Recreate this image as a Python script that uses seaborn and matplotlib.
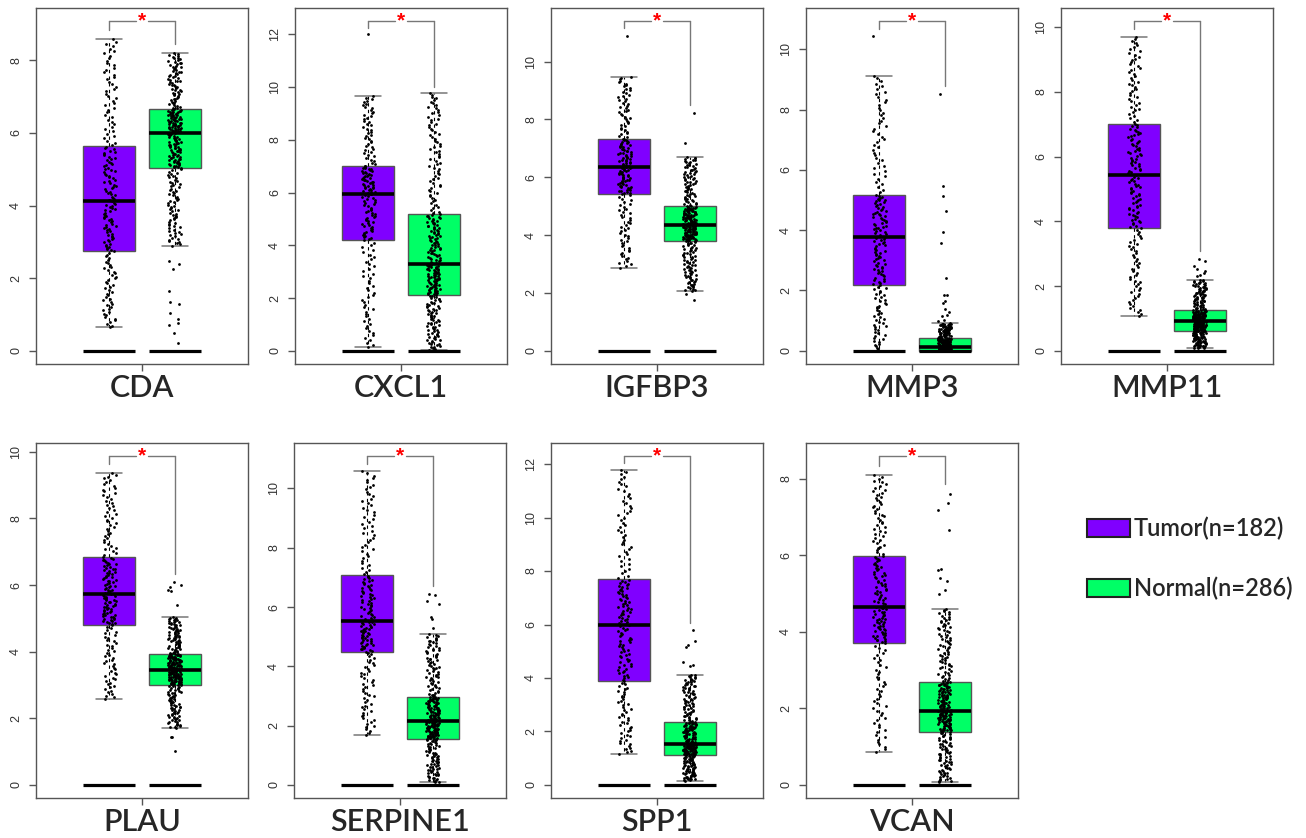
import numpy as np
import pandas as pd
import matplotlib
matplotlib.use("Agg")
import matplotlib.pyplot as plt
import seaborn as sns
from matplotlib.patches import Patch
from matplotlib.ticker import MultipleLocator

sns.set_theme(style="white")
plt.rcParams['font.family'] = ['Liberation Sans', 'DejaVu Sans']

# ---------------- data ----------------
genes = ["CDA", "CXCL1", "IGFBP3", "MMP3", "MMP11",
         "PLAU", "SERPINE1", "SPP1", "VCAN"]
groups = ["Tumor", "Normal"]
n_tumor = 182
n_normal = 286

# box statistics: [lower whisker, Q1, median, Q3, upper whisker]
tumor_stats = {
    "CDA":      [0.65, 2.75, 4.13, 5.64, 8.58],
    "CXCL1":    [0.13, 4.19, 5.94, 7.02, 9.66],
    "IGFBP3":   [2.88, 5.43, 6.35, 7.34, 9.48],
    "MMP3":     [0.00, 2.18, 3.78, 5.17, 9.12],
    "MMP11":    [1.09, 3.81, 5.44, 7.00, 9.69],
    "PLAU":     [2.58, 4.81, 5.73, 6.83, 9.37],
    "SERPINE1": [1.69, 4.48, 5.54, 7.08, 10.59],
    "SPP1":     [1.15, 3.90, 6.00, 7.71, 11.80],
    "VCAN":     [0.87, 3.72, 4.64, 5.98, 8.09],
}
normal_stats = {
    "CDA":      [2.90, 5.04, 6.01, 6.65, 8.19],
    "CXCL1":    [0.04, 2.13, 3.28, 5.20, 9.77],
    "IGFBP3":   [2.07, 3.80, 4.35, 4.99, 6.71],
    "MMP3":     [0.00, 0.00, 0.14, 0.41, 0.91],
    "MMP11":    [0.08, 0.61, 0.91, 1.25, 2.19],
    "PLAU":     [1.71, 3.01, 3.46, 3.94, 5.04],
    "SERPINE1": [0.09, 1.54, 2.17, 2.97, 5.08],
    "SPP1":     [0.16, 1.13, 1.54, 2.35, 4.12],
    "VCAN":     [0.07, 1.38, 1.94, 2.69, 4.59],
}
# points outside the whiskers
tumor_outliers = {
    "CDA": [], "CXCL1": [12.0], "IGFBP3": [10.9], "MMP3": [10.43],
    "MMP11": [], "PLAU": [], "SERPINE1": [], "SPP1": [], "VCAN": [],
}
normal_outliers = {
    "CDA": [2.47, 2.40, 2.24, 1.64, 1.35, 1.29, 1.03, 0.89, 0.76, 0.71, 0.50, 0.21],
    "CXCL1": [],
    "IGFBP3": [8.24, 7.20, 1.95, 1.77],
    "MMP3": [8.52, 5.47, 5.14, 4.64, 3.94, 3.58, 2.41, 1.84, 1.84, 1.64, 1.59,
             1.37, 1.29, 1.20, 1.14, 1.03, 0.98],
    "MMP11": [2.84, 2.77, 2.61, 2.53, 2.46, 2.40, 2.35, 2.30],
    "PLAU": [6.08, 6.00, 5.94, 5.86, 5.81, 5.41, 1.44, 1.44, 1.02],
    "SERPINE1": [6.45, 6.42, 6.20, 6.10, 5.65, 5.60, 5.30],
    "SPP1": [5.80, 5.40, 5.25, 5.15, 4.58, 4.49, 4.43],
    "VCAN": [7.61, 7.36, 7.17, 6.65, 5.65, 5.62, 5.40, 5.33, 5.10, 4.99],
}
legend_labels = ["Tumor(n=182)", "Normal(n=286)"]

palette = {"Tumor": "#8000FF", "Normal": "#00FF66"}

# ---------------- layout ----------------
W, H = 1306, 838
fig = plt.figure(figsize=(W / 100, H / 100), dpi=100)

top_row = (8, 364)
bot_row = (443, 798)
lefts_top = [36, 295, 551, 806, 1061]
lefts_bot = [36, 294, 551, 806]
panel_w = 212

rects = []
for l in lefts_top:
    rects.append((l, top_row))
for l in lefts_bot:
    rects.append((l, bot_row))


def core_values(stats, n):
    p = np.linspace(0, 1, n)
    return np.interp(p, [0, 0.25, 0.5, 0.75, 1.0], stats)


label_font = ["Lato", "DejaVu Sans"]

np.random.seed(3)
for gene, (l, (yt, yb)) in zip(genes, rects):
    ax = fig.add_axes([l / W, 1 - yb / H, panel_w / W, (yb - yt) / H])
    t_out = tumor_outliers[gene]
    n_out = normal_outliers[gene]
    t_core = core_values(tumor_stats[gene], n_tumor - len(t_out))
    n_core = core_values(normal_stats[gene], n_normal - len(n_out))

    core_df = pd.DataFrame({
        "group": ["Tumor"] * len(t_core) + ["Normal"] * len(n_core),
        "value": np.concatenate([t_core, n_core]),
    })
    all_df = pd.DataFrame({
        "group": ["Tumor"] * (len(t_core) + len(t_out)) +
                 ["Normal"] * (len(n_core) + len(n_out)),
        "value": np.concatenate([t_core, t_out, n_core, n_out]),
    })

    sns.boxplot(data=core_df, x="group", y="value", order=groups,
                hue="group", hue_order=groups, palette=palette,
                saturation=1, width=0.8, whis=(0, 100), showfliers=False,
                linewidth=1, linecolor="#555555", legend=False,
                medianprops=dict(color="black", linewidth=2.6),
                whiskerprops=dict(color="black", linewidth=0.8,
                                  linestyle=(0, (3, 3))),
                capprops=dict(color="#777777", linewidth=1.1),
                ax=ax, zorder=2)
    sns.stripplot(data=all_df, x="group", y="value", order=groups,
                  color="black", size=2.0, jitter=0.1, linewidth=0,
                  ax=ax, zorder=4)

    # zero baseline segments under each box
    for pos in range(len(groups)):
        ax.plot([pos - 0.4, pos + 0.4], [0, 0], color="black", lw=2.3,
                zorder=3, solid_capstyle="butt")

    # significance bracket
    tmax = max(tumor_stats[gene][-1], max(t_out) if t_out else -1)
    nmax = max(normal_stats[gene][-1], max(n_out) if n_out else -1)
    top = max(tmax, nmax) + 0.5
    bc = "#777777"
    ax.plot([0, 0], [tmax + 0.25, top], color=bc, lw=1, zorder=3)
    ax.plot([1, 1], [nmax + 0.25, top], color=bc, lw=1, zorder=3)
    ax.plot([0, 0.41], [top, top], color=bc, lw=1, zorder=3)
    ax.plot([0.59, 1], [top, top], color=bc, lw=1, zorder=3)
    ax.text(0.5, top, "*", color="red", ha="center", va="center",
            fontsize=15, fontweight="bold", zorder=5)

    ax.set_ylim(-0.04 * top, 1.04 * top)
    ax.set_xlim(-1.13, 2.13)
    ax.yaxis.set_major_locator(MultipleLocator(2))
    ax.set_xticks([0.5])
    ax.set_xticklabels([gene], fontsize=22, family=label_font,
                       fontweight="semibold")
    ax.set_xlabel("")
    ax.set_ylabel("")
    ax.tick_params(axis="x", length=5, width=1, color="#555555", pad=2,
                   bottom=True)
    ax.tick_params(axis="y", length=5, width=1, color="#555555", pad=5,
                   labelsize=9, labelcolor="#333333", left=True)
    for lab in ax.get_yticklabels():
        lab.set_rotation(90)
        lab.set_va("center")
        lab.set_ha("right")
    for s in ax.spines.values():
        s.set_color("#555555")
        s.set_linewidth(1)

handles = [Patch(facecolor=palette[g], edgecolor="#222222", linewidth=1.5)
           for g in groups]
fig.legend(handles, legend_labels, loc="center left",
           bbox_to_anchor=(1087 / W, 1 - 558.5 / H), frameon=False,
           prop={"family": label_font, "size": 17, "weight": "semibold"},
           handlelength=1.82, handleheight=0.85, handletextpad=0.15,
           labelspacing=1.55, borderpad=0, borderaxespad=0)

fig.savefig("out.png", dpi=100)
